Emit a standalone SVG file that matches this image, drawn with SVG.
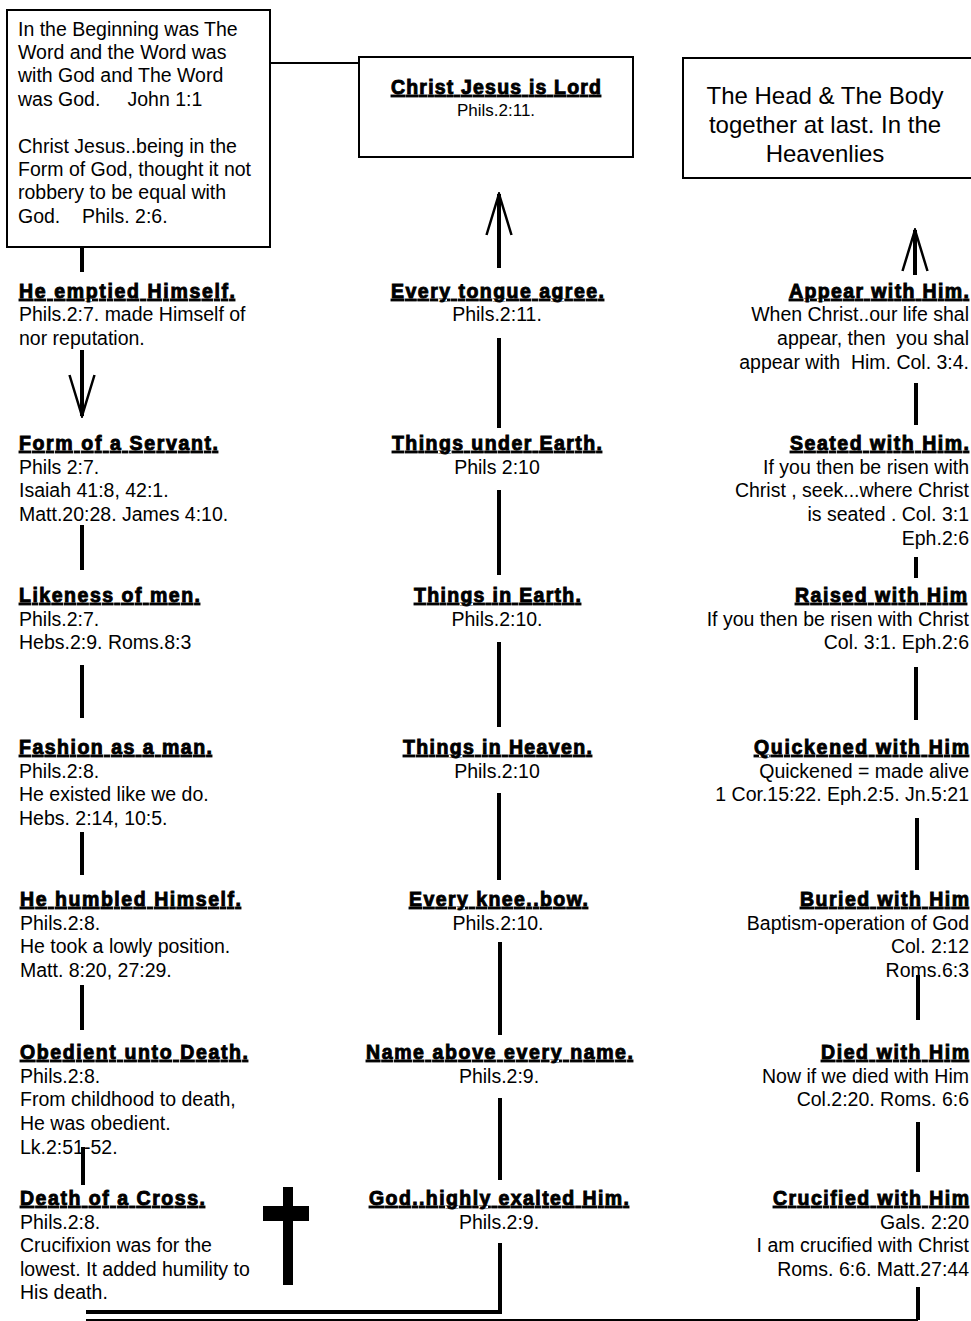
<svg xmlns="http://www.w3.org/2000/svg" width="971" height="1321" viewBox="0 0 971 1321">
<style>
text{font-family:"Liberation Sans",Arial,sans-serif;fill:#000}
.b{font-size:19.5px}
.t{font-size:19.5px;font-weight:bold;stroke:#000;stroke-width:0.9;text-decoration:underline}
.m{text-anchor:middle}
.e{text-anchor:end}
.box{fill:#fff;stroke:#000;stroke-width:2}
.c{fill:none;stroke:#000;stroke-width:4}
.thin{fill:none;stroke:#000;stroke-width:2}
</style>
<defs>
<marker id="v" viewBox="-44 -15 46 30" refX="0" refY="0" markerWidth="46" markerHeight="30" markerUnits="userSpaceOnUse" orient="auto">
<path d="M-41,-12.5 L0,0 L-41,12.5" fill="none" stroke="#000" stroke-width="2.5"/>
</marker>
</defs>
<rect width="971" height="1321" fill="#fff"/>

<g id="connectors">
<line class="thin" x1="270" y1="63" x2="359" y2="63"/>
<line class="c" x1="499" y1="268" x2="499" y2="194" marker-end="url(#v)"/>
<line class="c" x1="915" y1="275" x2="915" y2="230" marker-end="url(#v)"/>
<line class="c" x1="82" y1="350" x2="82" y2="416" marker-end="url(#v)"/>
<line class="c" x1="82" y1="247" x2="82" y2="272"/>
<line class="c" x1="82" y1="525" x2="82" y2="570"/>
<line class="c" x1="82" y1="665" x2="82" y2="718"/>
<line class="c" x1="82" y1="832" x2="82" y2="875"/>
<line class="c" x1="82" y1="985" x2="82" y2="1030"/>
<line class="c" x1="83" y1="1147" x2="83" y2="1185"/>
<line class="c" x1="499" y1="338" x2="499" y2="428"/>
<line class="c" x1="499" y1="490" x2="499" y2="575"/>
<line class="c" x1="499" y1="642" x2="499" y2="727"/>
<line class="c" x1="499" y1="793" x2="499" y2="880"/>
<line class="c" x1="500" y1="942" x2="500" y2="1035"/>
<line class="c" x1="500" y1="1098" x2="500" y2="1180"/>
<polyline class="c" points="500,1243 500,1312 86,1312" stroke-width="3.5"/>
<line class="c" x1="916" y1="383" x2="916" y2="425"/>
<line class="c" x1="916" y1="557" x2="916" y2="578"/>
<line class="c" x1="916" y1="667" x2="916" y2="720"/>
<line class="c" x1="917" y1="818" x2="917" y2="870"/>
<line class="c" x1="918" y1="975" x2="918" y2="1020"/>
<line class="c" x1="918" y1="1122" x2="918" y2="1172"/>
<line class="c" x1="918" y1="1287" x2="918" y2="1320"/>
<line class="thin" x1="86" y1="1320" x2="918" y2="1320"/>
</g>

<g id="cross">
<rect x="283" y="1187" width="10" height="98" fill="#000"/>
<rect x="263" y="1206" width="46" height="15" fill="#000"/>
</g>

<g id="box-beginning">
<rect class="box" x="7" y="10" width="263" height="237"/>
<text class="b" x="18" y="36">In the Beginning was The</text>
<text class="b" x="18" y="59">Word and the Word was</text>
<text class="b" x="18" y="82">with God and The Word</text>
<text class="b" x="18" y="106" xml:space="preserve">was God.     John 1:1</text>
<text class="b" x="18" y="153">Christ Jesus..being in the</text>
<text class="b" x="18" y="176">Form of God, thought it not</text>
<text class="b" x="18" y="199">robbery to be equal with</text>
<text class="b" x="18" y="223" xml:space="preserve">God.    Phils. 2:6.</text>
</g>

<g id="box-lord">
<rect class="box" x="359" y="57" width="274" height="100"/>
<text class="t" x="391" y="94" textLength="210" lengthAdjust="spacing">Christ Jesus is Lord</text>
<text class="m" x="496" y="116" font-size="17">Phils.2:11.</text>
</g>

<g id="box-head">
<rect class="box" x="683" y="58" width="300" height="120"/>
<text class="m" x="825" y="104" font-size="24">The Head &amp; The Body</text>
<text class="m" x="825" y="133" font-size="24">together at last. In the</text>
<text class="m" x="825" y="162" font-size="24">Heavenlies</text>
</g>

<g id="emptied">
<text class="t" x="19" y="298" textLength="216" lengthAdjust="spacing">He emptied Himself.</text>
<text class="b" x="19" y="321">Phils.2:7. made Himself of</text>
<text class="b" x="19" y="345">nor reputation.</text>
</g>
<g id="servant">
<text class="t" x="19" y="450" textLength="199" lengthAdjust="spacing">Form of a Servant.</text>
<text class="b" x="19" y="474">Phils 2:7.</text>
<text class="b" x="19" y="497">Isaiah 41:8, 42:1.</text>
<text class="b" x="19" y="521">Matt.20:28. James 4:10.</text>
</g>
<g id="likeness">
<text class="t" x="19" y="602" textLength="181" lengthAdjust="spacing">Likeness of men.</text>
<text class="b" x="19" y="626">Phils.2:7.</text>
<text class="b" x="19" y="649">Hebs.2:9. Roms.8:3</text>
</g>
<g id="fashion">
<text class="t" x="19" y="754" textLength="193" lengthAdjust="spacing">Fashion as a man.</text>
<text class="b" x="19" y="778">Phils.2:8.</text>
<text class="b" x="19" y="801">He existed like we do.</text>
<text class="b" x="19" y="825">Hebs. 2:14, 10:5.</text>
</g>
<g id="humbled">
<text class="t" x="20" y="906" textLength="221" lengthAdjust="spacing">He humbled Himself.</text>
<text class="b" x="20" y="930">Phils.2:8.</text>
<text class="b" x="20" y="953">He took a lowly position.</text>
<text class="b" x="20" y="977">Matt. 8:20, 27:29.</text>
</g>
<g id="obedient">
<text class="t" x="20" y="1059" textLength="228" lengthAdjust="spacing">Obedient unto Death.</text>
<text class="b" x="20" y="1083">Phils.2:8.</text>
<text class="b" x="20" y="1106">From childhood to death,</text>
<text class="b" x="20" y="1130">He was obedient.</text>
<text class="b" x="20" y="1154">Lk.2:51-52.</text>
</g>
<g id="death-cross">
<text class="t" x="20" y="1205" textLength="185" lengthAdjust="spacing">Death of a Cross.</text>
<text class="b" x="20" y="1229">Phils.2:8.</text>
<text class="b" x="20" y="1252">Crucifixion was for the</text>
<text class="b" x="20" y="1276">lowest. It added humility to</text>
<text class="b" x="20" y="1299">His death.</text>
</g>

<g id="tongue">
<text class="t" x="391" y="298" textLength="213" lengthAdjust="spacing">Every tongue agree.</text>
<text class="b m" x="497" y="321">Phils.2:11.</text>
</g>
<g id="under-earth">
<text class="t" x="392" y="450" textLength="210" lengthAdjust="spacing">Things under Earth.</text>
<text class="b m" x="497" y="474">Phils 2:10</text>
</g>
<g id="in-earth">
<text class="t" x="414" y="602" textLength="167" lengthAdjust="spacing">Things in Earth.</text>
<text class="b m" x="497" y="626">Phils.2:10.</text>
</g>
<g id="in-heaven">
<text class="t" x="403" y="754" textLength="189" lengthAdjust="spacing">Things in Heaven.</text>
<text class="b m" x="497" y="778">Phils.2:10</text>
</g>
<g id="knee">
<text class="t" x="409" y="906" textLength="179" lengthAdjust="spacing">Every knee..bow.</text>
<text class="b m" x="498" y="930">Phils.2:10.</text>
</g>
<g id="name">
<text class="t" x="366" y="1059" textLength="267" lengthAdjust="spacing">Name above every name.</text>
<text class="b m" x="499" y="1083">Phils.2:9.</text>
</g>
<g id="exalted">
<text class="t" x="369" y="1205" textLength="260" lengthAdjust="spacing">God..highly exalted Him.</text>
<text class="b m" x="499" y="1229">Phils.2:9.</text>
</g>

<g id="appear">
<text class="t" x="789" y="298" textLength="180" lengthAdjust="spacing">Appear with Him.</text>
<text class="b e" x="969" y="321">When Christ..our life shal</text>
<text class="b e" x="969" y="345" xml:space="preserve">appear, then  you shal</text>
<text class="b e" x="969" y="369" xml:space="preserve">appear with  Him. Col. 3:4.</text>
</g>
<g id="seated">
<text class="t" x="790" y="450" textLength="179" lengthAdjust="spacing">Seated with Him.</text>
<text class="b e" x="969" y="474">If you then be risen with</text>
<text class="b e" x="969" y="497">Christ , seek...where Christ</text>
<text class="b e" x="969" y="521">is seated . Col. 3:1</text>
<text class="b e" x="969" y="545">Eph.2:6</text>
</g>
<g id="raised">
<text class="t" x="795" y="602" textLength="172" lengthAdjust="spacing">Raised with Him</text>
<text class="b e" x="969" y="626">If you then be risen with Christ</text>
<text class="b e" x="969" y="649">Col. 3:1. Eph.2:6</text>
</g>
<g id="quickened">
<text class="t" x="754" y="754" textLength="215" lengthAdjust="spacing">Quickened with Him</text>
<text class="b e" x="969" y="778">Quickened = made alive</text>
<text class="b e" x="969" y="801">1 Cor.15:22. Eph.2:5. Jn.5:21</text>
</g>
<g id="buried">
<text class="t" x="800" y="906" textLength="169" lengthAdjust="spacing">Buried with Him</text>
<text class="b e" x="969" y="930">Baptism-operation of God</text>
<text class="b e" x="969" y="953">Col. 2:12</text>
<text class="b e" x="969" y="977">Roms.6:3</text>
</g>
<g id="died">
<text class="t" x="821" y="1059" textLength="148" lengthAdjust="spacing">Died with Him</text>
<text class="b e" x="969" y="1083">Now if we died with Him</text>
<text class="b e" x="969" y="1106">Col.2:20. Roms. 6:6</text>
</g>
<g id="crucified">
<text class="t" x="773" y="1205" textLength="196" lengthAdjust="spacing">Crucified with Him</text>
<text class="b e" x="969" y="1229">Gals. 2:20</text>
<text class="b e" x="969" y="1252">I am crucified with Christ</text>
<text class="b e" x="969" y="1276">Roms. 6:6. Matt.27:44</text>
</g>
</svg>
